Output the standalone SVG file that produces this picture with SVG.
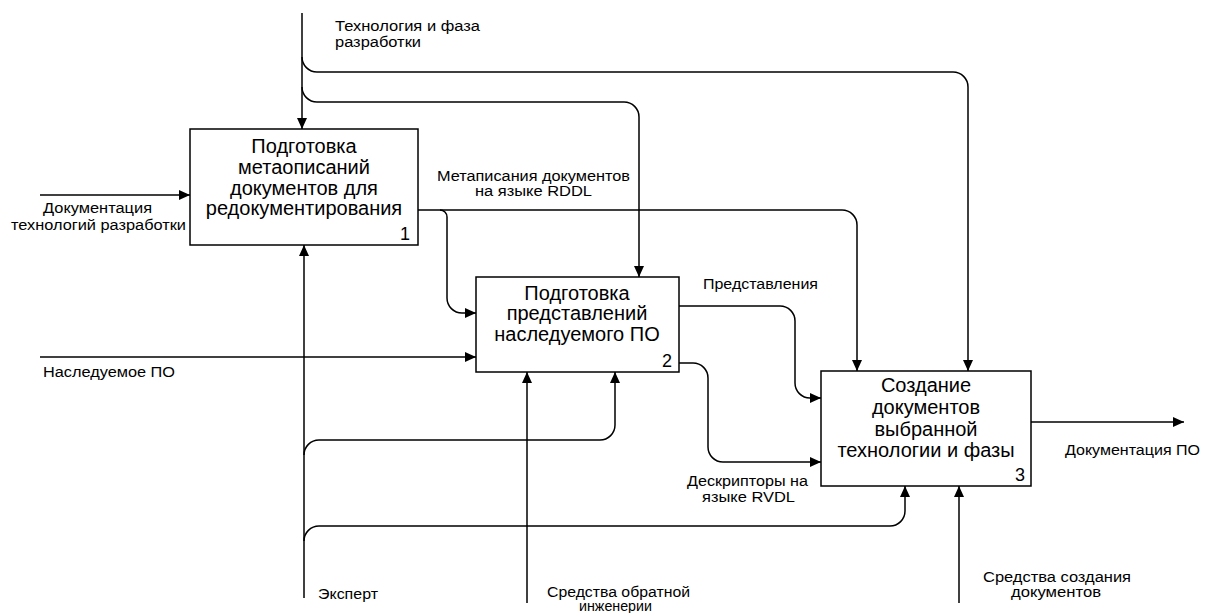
<svg xmlns="http://www.w3.org/2000/svg" width="1215" height="613" viewBox="0 0 1215 613">
<style>
.box{fill:#fff;stroke:#000;stroke-width:1.5}
.t{font-family:"Liberation Sans",Arial,sans-serif;font-size:20px;fill:#000;text-anchor:middle}
.n{font-family:"Liberation Sans",Arial,sans-serif;font-size:18px;fill:#000;text-anchor:end}
.l{font-family:"Liberation Sans",Arial,sans-serif;font-size:14px;fill:#000}
.ln{fill:none;stroke:#000;stroke-width:1.5}
.a{marker-end:url(#ah)}
</style>
<defs>
<marker id="ah" markerUnits="userSpaceOnUse" markerWidth="12" markerHeight="10" refX="11" refY="5" orient="auto">
<path d="M0,0 L11,5 L0,10 z" fill="#000"/>
</marker>
</defs>
<rect width="1215" height="613" fill="#fff"/>
<g id="connectors">
<path class="ln a" d="M302,13 V129"/>
<path class="ln a" d="M302,57 A15,15 0 0 0 317,72 H953 A15,15 0 0 1 968,87 V371"/>
<path class="ln a" d="M302,87 A15,15 0 0 0 317,102 H624 A15,15 0 0 1 639,117 V277"/>
<path class="ln a" d="M40,195 H190"/>
<path class="ln a" d="M418,210 H842 A15,15 0 0 1 857,225 V371"/>
<path class="ln a" d="M440,210 A7,7 0 0 1 447,217 V298 A15,15 0 0 0 462,313 H476"/>
<path class="ln a" d="M40,357 H476"/>
<path class="ln a" d="M679,306 H780 A15,15 0 0 1 795,321 V383 A15,15 0 0 0 810,398 H821"/>
<path class="ln a" d="M679,363 H693 A15,15 0 0 1 708,378 V447 A15,15 0 0 0 723,462 H821"/>
<path class="ln a" d="M1031,422 H1184"/>
<path class="ln a" d="M304,598 V245"/>
<path class="ln a" d="M304,455 A15,15 0 0 1 319,440 H600 A15,15 0 0 0 615,425 V372"/>
<path class="ln a" d="M304,541 A15,15 0 0 1 319,526 H890 A15,15 0 0 0 905,511 V486"/>
<path class="ln a" d="M527,603 V372"/>
<path class="ln a" d="M959,603 V486"/>
</g>
<g id="node1">
<rect class="box" x="190" y="129" width="228" height="116"/>
<text class="t" x="304" y="153">Подготовка</text>
<text class="t" x="304" y="174">метаописаний</text>
<text class="t" x="304" y="195">документов для</text>
<text class="t" x="304" y="215">редокументирования</text>
<text class="n" x="410" y="240">1</text>
</g>
<g id="node2">
<rect class="box" x="476" y="277" width="203" height="95"/>
<text class="t" x="577" y="300">Подготовка</text>
<text class="t" x="577" y="320">представлений</text>
<text class="t" x="577" y="341">наследуемого ПО</text>
<text class="n" x="672" y="367">2</text>
</g>
<g id="node3">
<rect class="box" x="821" y="371" width="210" height="115"/>
<text class="t" x="926" y="392">Создание</text>
<text class="t" x="926" y="414">документов</text>
<text class="t" x="926" y="436">выбранной</text>
<text class="t" x="926" y="457">технологии и фазы</text>
<text class="n" x="1025" y="481">3</text>
</g>
<g id="labels">
<text class="l" x="335" y="31" textLength="145" lengthAdjust="spacingAndGlyphs">Технология и фаза</text>
<text class="l" x="335" y="47" textLength="86" lengthAdjust="spacingAndGlyphs">разработки</text>
<text class="l" x="43" y="213" textLength="109" lengthAdjust="spacingAndGlyphs">Документация</text>
<text class="l" x="11" y="230" textLength="175" lengthAdjust="spacingAndGlyphs">технологий разработки</text>
<text class="l" x="437" y="181" textLength="193" lengthAdjust="spacingAndGlyphs">Метаписания документов</text>
<text class="l" x="475" y="196" textLength="117" lengthAdjust="spacingAndGlyphs">на языке RDDL</text>
<text class="l" x="703" y="289" textLength="115" lengthAdjust="spacingAndGlyphs">Представления</text>
<text class="l" x="43" y="377" textLength="132" lengthAdjust="spacingAndGlyphs">Наследуемое ПО</text>
<text class="l" x="687" y="486" textLength="121" lengthAdjust="spacingAndGlyphs">Дескрипторы на</text>
<text class="l" x="702" y="502" textLength="93" lengthAdjust="spacingAndGlyphs">языке RVDL</text>
<text class="l" x="1065" y="455" textLength="135" lengthAdjust="spacingAndGlyphs">Документация ПО</text>
<text class="l" x="318" y="599" textLength="60" lengthAdjust="spacingAndGlyphs">Эксперт</text>
<text class="l" x="547" y="597" textLength="143" lengthAdjust="spacingAndGlyphs">Средства обратной</text>
<text class="l" x="579" y="611" textLength="73" lengthAdjust="spacingAndGlyphs">инженерии</text>
<text class="l" x="983" y="582" textLength="148" lengthAdjust="spacingAndGlyphs">Средства создания</text>
<text class="l" x="1011" y="597" textLength="90" lengthAdjust="spacingAndGlyphs">документов</text>
</g>
</svg>
